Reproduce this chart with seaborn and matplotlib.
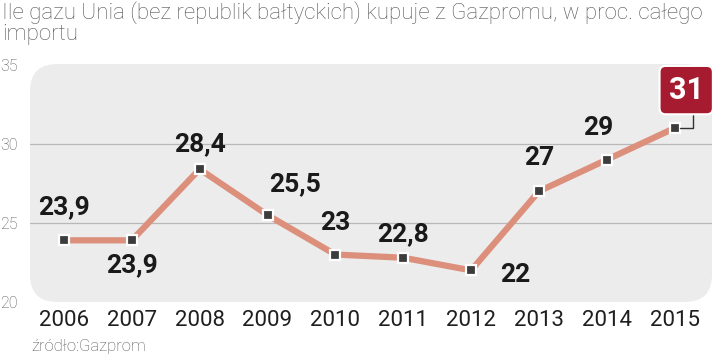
import matplotlib
matplotlib.use("Agg")
import matplotlib.pyplot as plt
from matplotlib.patches import FancyBboxPatch
import seaborn as sns
import pandas as pd
from matplotlib import font_manager as fm

years = ["2006", "2007", "2008", "2009", "2010", "2011", "2012", "2013", "2014", "2015"]
values = [23.9, 23.9, 28.4, 25.5, 23.0, 22.8, 22.0, 27.0, 29.0, 31.0]
labels = ["23,9", "23,9", "28,4", "25,5", "23", "22,8", "22", "27", "29", "31"]
yticks = [20, 25, 30, 35]
title = "Ile gazu Unia (bez republik bałtyckich) kupuje z Gazpromu, w proc. całego\nimportu"
source = "źródło:Gazprom"

sns.set_theme(style="white")
plt.rcParams['font.family'] = ['Roboto', 'DejaVu Sans']

names = {f.name for f in fm.fontManager.ttflist}
narrow = 'Liberation Sans Narrow' if 'Liberation Sans Narrow' in names else 'Roboto'

W, H = 720, 356
fig = plt.figure(figsize=(7.2, 3.56), dpi=100)
fig.patch.set_facecolor("white")
ax = fig.add_axes([30 / W, 1 - 302 / H, (712 - 30) / W, (302 - 64) / H])
ax.set_facecolor("none")

bg = FancyBboxPatch((0, 0), 1, 1, boxstyle="round,pad=0,rounding_size=0.04",
                    transform=ax.transAxes, facecolor="#ececec", edgecolor="none",
                    mutation_aspect=682 / 238, zorder=0)
ax.add_patch(bg)

df = pd.DataFrame({"year": years, "value": values})
df["x"] = range(len(years))
ax.set_xlim(-0.5, 9.55)
ax.set_ylim(20, 35.05)
for y in [25, 30]:
    ax.axhline(y, color="#b8b8b8", lw=0.9, zorder=1)

sns.lineplot(data=df, x="x", y="value", ax=ax, color="#dc8f7b", lw=4.5,
             marker="s", markersize=7, markerfacecolor="#3c3c3c",
             markeredgecolor="white", markeredgewidth=1.6, zorder=3)

# label offsets (dx in data units, dy in points)
offs = [(0, 24), (0, -18), (0, 18), (0.4, 22), (0, 23), (0, 17), (0.65, -3), (0, 24), (-0.12, 23)]
for i in range(9):
    dx, dy = offs[i]
    ax.annotate(labels[i], (i + dx, values[i]), xytext=(0, dy), textcoords="offset points",
                ha="center", va="center", fontsize=19, fontweight="bold",
                family=[narrow, 'DejaVu Sans'], color="#1a1a1a", zorder=5)

# highlighted last value
i = 9
ax.annotate(labels[i], (i, values[i]), xytext=(9.17, 33.4), textcoords="data",
            xycoords="data", ha="center", va="center",
            fontsize=22, fontweight="bold", family=[narrow, 'DejaVu Sans'], color="white",
            bbox=dict(boxstyle="round,pad=0.3,rounding_size=0.2", fc="#a61b2f",
                      ec="white", lw=1.5),
            arrowprops=dict(arrowstyle="-", color="#333333", lw=1.0,
                            connectionstyle="angle,angleA=90,angleB=0,rad=0",
                            relpos=(0.68, 0), shrinkA=0, shrinkB=4),
            annotation_clip=False, zorder=6)

ax.set_xticks(range(len(years)))
ax.set_xticklabels(years, fontsize=16, color="#1f1f1f")
ax.set_yticks(yticks)
ax.set_yticklabels([str(v) for v in yticks], fontsize=11.5, color="#555555", fontweight="light")
ax.tick_params(axis="x", length=0, pad=6)
ax.tick_params(axis="y", length=0, pad=9)
for s in ax.spines.values():
    s.set_visible(False)
ax.set_xlabel("")
ax.set_ylabel("")

fig.text(2 / W, 1 - 1 / H, title, ha="left", va="top", fontsize=16, color="#555555",
         fontweight="light", linespacing=1.0)
fig.text(31 / W, 1 - 347 / H, source, ha="left", va="center", fontsize=12,
         color="#555555", fontweight="light")

fig.savefig("out.png", dpi=100)
